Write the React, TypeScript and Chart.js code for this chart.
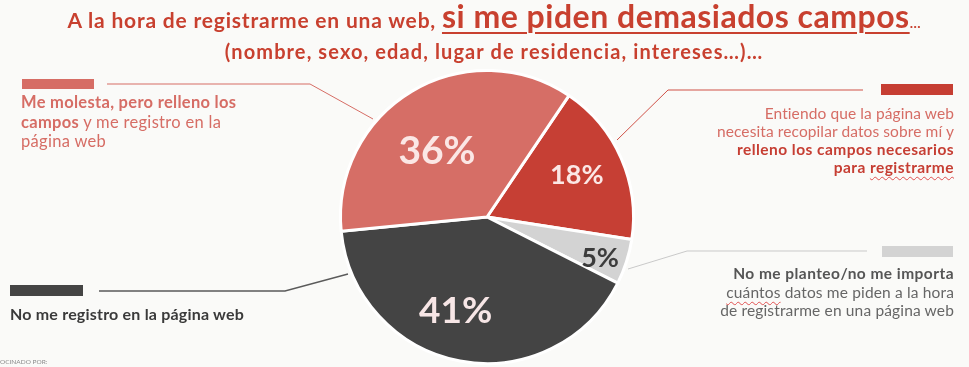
import React, { useEffect, useRef } from "react";
import { Chart, registerables } from "chart.js";

Chart.register(...registerables);

// ---- data ----
const categories = [
  "Entiendo que la página web necesita recopilar datos sobre mí y relleno los campos necesarios para registrarme",
  "No me planteo/no me importa cuántos datos me piden a la hora de registrarme en una página web",
  "No me registro en la página web",
  "Me molesta, pero relleno los campos y me registro en la página web",
];
const values = [18, 5, 41, 36];
const sliceColors = ["#C63F34", "#D3D3D3", "#444444", "#D66E66"];
const labelColors = ["#FBE7E5", "#3C3C3C", "#F7E6E6", "#FBE7E5"];
const labelSizes = [27, 27, 37, 39];
const labelRadius = [0.68, 0.82, 0.67, 0.57];
const labelAngleShift = [-2, 2, 8, -6];

const BG = "#FAFAF8";
const FONT = "Lato, 'Open Sans', sans-serif";

const pieLabels = {
  id: "pieLabels",
  afterDatasetsDraw(chart: any) {
    const meta = chart.getDatasetMeta(0);
    const ctx = chart.ctx;
    ctx.save();
    meta.data.forEach((arc: any, i: number) => {
      const p = arc.getProps(["x", "y", "startAngle", "endAngle", "outerRadius"], true);
      const mid = (p.startAngle + p.endAngle) / 2 + (labelAngleShift[i] * Math.PI) / 180;
      const r = p.outerRadius * labelRadius[i];
      const x = p.x + Math.cos(mid) * r;
      const y = p.y + Math.sin(mid) * r;
      const size = labelSizes[i];
      ctx.font = `bold ${size}px ${FONT}`;
      ctx.fillStyle = labelColors[i];
      ctx.textAlign = "center";
      ctx.textBaseline = "alphabetic";
      ctx.fillText(`${values[i]}%`, x, y + size * 0.36);
    });
    ctx.restore();
  },
};

const leaders = [
  { pts: "107,84 310,84 373,119", color: "#D66D65", w: 1 },
  { pts: "863,90 668,90 617,140", color: "#CF5147", w: 1 },
  { pts: "867,251 687,251 628,269", color: "#C9C9C9", w: 1 },
  { pts: "99,291 285,291 348,274", color: "#5A5A5A", w: 1.3 },
];
const bars = [
  { x: 22, y: 79, w: 72, h: 10, c: "#D66D65" },
  { x: 881, y: 84, w: 72, h: 11, c: "#C63E33" },
  { x: 882, y: 246, w: 71, h: 11, c: "#D3D3D3" },
  { x: 10, y: 285, w: 73, h: 11, c: "#444444" },
];

const wavy: React.CSSProperties = {
  textDecorationLine: "underline",
  textDecorationStyle: "wavy",
  textDecorationColor: "#E05050",
  textDecorationThickness: "1px",
  textUnderlineOffset: "3px",
};

export default function App() {
  const ref = useRef<HTMLCanvasElement | null>(null);
  useEffect(() => {
    if (!ref.current) return;
    const chart = new Chart(ref.current, {
      type: "pie",
      data: {
        labels: categories,
        datasets: [
          {
            data: values,
            backgroundColor: sliceColors,
            borderColor: "#FFFFFF",
            borderWidth: 3,
            hoverOffset: 0,
            offset: 0,
          },
        ],
      },
      options: {
        responsive: false,
        animation: false,
        rotation: 34,
        layout: { padding: { left: 339, right: 334, top: 69, bottom: 2 } },
        plugins: {
          legend: { display: false },
          tooltip: { enabled: false },
          title: { display: false },
        },
      },
      plugins: [pieLabels],
    });
    return () => chart.destroy();
  }, []);

  const abs = (s: React.CSSProperties): React.CSSProperties => ({ position: "absolute", whiteSpace: "nowrap", ...s });

  return (
    <div style={{ position: "fixed", left: 0, top: 0, width: 969, height: 367, background: BG, overflow: "hidden", fontFamily: FONT }}>
      <canvas ref={ref} width={969} height={367} style={{ position: "absolute", left: 0, top: 0, width: 969, height: 367 }} />
      <svg width={969} height={367} style={{ position: "absolute", left: 0, top: 0 }}>
        {leaders.map((l, i) => (
          <polyline key={i} points={l.pts} fill="none" stroke={l.color} strokeWidth={l.w} />
        ))}
        {bars.map((b, i) => (
          <rect key={i} x={b.x} y={b.y} width={b.w} height={b.h} fill={b.c} />
        ))}
      </svg>
      {/* title */}
      <div style={abs({ left: 0, width: 988, top: -3, textAlign: "center", lineHeight: "38px", color: "#C8402F", fontWeight: 700 })}>
        <span style={{ fontSize: 21, letterSpacing: "0.8px" }}>A la hora de registrarme en una web, </span>
        <span style={{ fontSize: 32, letterSpacing: "0.5px", textDecorationLine: "underline", textDecorationThickness: "2px", textUnderlineOffset: "4px" }}>si me piden demasiados campos</span>
        <span style={{ fontSize: 14 }}>…</span>
      </div>
      <div style={abs({ left: 0, width: 988, top: 39, textAlign: "center", lineHeight: "24px", fontSize: 20, letterSpacing: "1.1px", color: "#C8402F", fontWeight: 700 })}>
        (nombre, sexo, edad, lugar de residencia, intereses…)…
      </div>
      {/* 36% */}
      <div style={abs({ left: 21, top: 93, fontSize: 16.5, letterSpacing: "0.3px", lineHeight: "19.5px", color: "#D66D65" })}>
        <b>Me molesta, pero relleno los</b>
        <br />
        <b>campos</b> y me registro en la
        <br />
        página web
      </div>
      {/* 18% */}
      <div style={abs({ right: 15, top: 104, fontSize: 15.5, lineHeight: "18px", textAlign: "right", color: "#D66D65", letterSpacing: "0.1px" })}>
        Entiendo que la página web
        <br />
        necesita recopilar datos sobre mí y
        <br />
        <b style={{ color: "#C63E33", letterSpacing: "0.45px" }}>relleno los campos necesarios</b>
        <br />
        <b style={{ color: "#C63E33", letterSpacing: "0.45px" }}>
          para <span style={wavy}>registrarme</span>
        </b>
      </div>
      {/* 5% */}
      <div style={abs({ right: 15, top: 264, fontSize: 15.5, lineHeight: "18.5px", textAlign: "right", color: "#666666", letterSpacing: "0.15px" })}>
        <b style={{ color: "#555555", letterSpacing: "0.45px" }}>No me planteo/no me importa</b>
        <br />
        <span style={wavy}>cuántos</span> datos me piden a la hora
        <br />
        de registrarme en una página web
      </div>
      {/* 41% */}
      <div style={abs({ left: 10, top: 304, fontSize: 16, letterSpacing: "0.2px", lineHeight: "20px", color: "#3A3A3A", fontWeight: 700 })}>
        No me registro en la página web
      </div>
      <div style={abs({ left: 0, top: 358, fontSize: 6.5, lineHeight: "8px", color: "#8A8A8A" })}>OCINADO POR:</div>
    </div>
  );
}
